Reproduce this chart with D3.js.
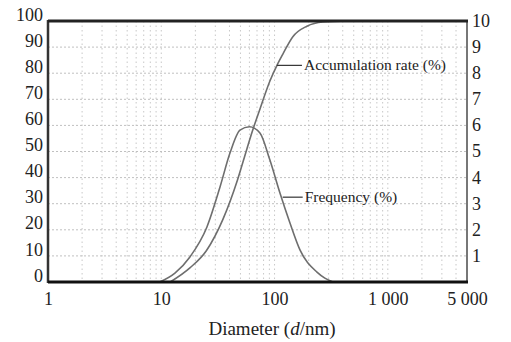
<!DOCTYPE html>
<html>
<head>
<meta charset="utf-8">
<script src="https://cdn.jsdelivr.net/npm/d3@7"></script>
<style>
  body { margin: 0; background: #fff; }
  svg { display: block; font-family: "Liberation Serif", "Times New Roman", serif; }
</style>
</head>
<body>
<svg width="511" height="342"></svg>
<script>
// particle size distribution: frequency (right axis) + accumulation (left axis)
const xTicks = [1, 10, 100, 1000, 5000];
const xTickLabels = ["1", "10", "100", "1 000", "5 000"];
const leftTicks = [0, 10, 20, 30, 40, 50, 60, 70, 80, 90, 100];
const rightTicks = [1, 2, 3, 4, 5, 6, 7, 8, 9, 10];

// frequency (%)
const freqD   = [9.7, 13.2, 17.9, 25.3, 33, 40.4, 49.5, 60, 74.3, 91, 111.6, 136.8, 167.6, 236.8, 278, 327.6];
const freqVal = [0, 0.34, 0.96, 2.11, 3.64, 4.94, 5.82, 5.95, 5.71, 4.67, 3.41, 2.26, 1.23, 0.38, 0.15, 0];

// accumulation rate (%)
const accD   = [12, 18, 25, 35, 47, 57, 64, 74, 91, 105, 119, 145, 193, 267, 460];
const accVal = [0, 5.5, 12, 24, 39, 51, 58, 66, 77, 83, 87.5, 94, 98, 99.6, 100];

const plotLeft = 48, plotRight = 467, plotTop = 21, plotBottom = 282;

const svg = d3.select("svg");

const x = d3.scaleLog().domain([1, 5000]).range([plotLeft, plotRight]);
const yL = d3.scaleLinear().domain([0, 100]).range([plotBottom, plotTop]);
const yR = d3.scaleLinear().domain([0, 10]).range([plotBottom, plotTop]);

// grid
const minor = [];
[1, 10, 100, 1000].forEach(dec => {
  for (let k = 2; k <= 10; k++) {
    const v = dec * k;
    if (v < 5000) minor.push(v);
  }
});
svg.append("g").selectAll("line").data(minor).enter().append("line")
  .attr("x1", d => x(d)).attr("x2", d => x(d))
  .attr("y1", plotTop).attr("y2", plotBottom)
  .attr("stroke", "#c8c8c8").attr("stroke-width", 1)
  .attr("stroke-dasharray", "1.5,3");

svg.append("g").selectAll("line").data(leftTicks.slice(1, -1)).enter().append("line")
  .attr("x1", plotLeft).attr("x2", plotRight)
  .attr("y1", d => yL(d)).attr("y2", d => yL(d))
  .attr("stroke", "#c0c0c0").attr("stroke-width", 1)
  .attr("stroke-dasharray", "2,2");

// curves
const line = d3.line().curve(d3.curveMonotoneX);

svg.append("path")
  .attr("d", line(freqD.map((d, i) => [x(d), yR(freqVal[i])])))
  .attr("fill", "none").attr("stroke", "#6e6e6e").attr("stroke-width", 1.6);

svg.append("path")
  .attr("d", line(accD.map((d, i) => [x(d), yL(accVal[i])])))
  .attr("fill", "none").attr("stroke", "#6e6e6e").attr("stroke-width", 1.6);

// frame
svg.append("line").attr("x1", plotRight).attr("x2", plotRight).attr("y1", plotTop).attr("y2", plotBottom)
  .attr("stroke", "#777").attr("stroke-width", 2);
svg.append("line").attr("x1", plotLeft).attr("x2", plotLeft).attr("y1", plotTop - 1).attr("y2", plotBottom + 1)
  .attr("stroke", "#333").attr("stroke-width", 2.5);
svg.append("line").attr("x1", plotLeft).attr("x2", plotRight + 1).attr("y1", plotTop).attr("y2", plotTop)
  .attr("stroke", "#222").attr("stroke-width", 3);
svg.append("line").attr("x1", plotLeft).attr("x2", plotRight + 1).attr("y1", plotBottom).attr("y2", plotBottom)
  .attr("stroke", "#111").attr("stroke-width", 3);

// axes
const gL = svg.append("g").attr("transform", `translate(${plotLeft},0)`)
  .call(d3.axisLeft(yL).tickValues(leftTicks).tickSize(0).tickPadding(5));
gL.select(".domain").remove();
gL.selectAll("text").attr("font-size", "18px").attr("fill", "#222").attr("dy", "-0.05em")
  .attr("font-family", "Liberation Serif, serif");

const gR = svg.append("g").attr("transform", `translate(${plotRight},0)`)
  .call(d3.axisRight(yR).tickValues(rightTicks).tickSize(0).tickPadding(5));
gR.select(".domain").remove();
gR.selectAll("text").attr("font-size", "18px").attr("fill", "#222").attr("dy", "0.3em")
  .attr("font-family", "Liberation Serif, serif");

const gB = svg.append("g").attr("transform", `translate(0,${plotBottom})`)
  .call(d3.axisBottom(x).tickValues(xTicks).tickSize(0).tickPadding(10)
    .tickFormat((d, i) => xTickLabels[i]));
gB.select(".domain").remove();
gB.selectAll("text").attr("font-size", "18px").attr("fill", "#222")
  .attr("font-family", "Liberation Serif, serif");

// axis title
const title = svg.append("text")
  .attr("x", 272).attr("y", 335)
  .attr("text-anchor", "middle")
  .attr("font-size", "19px").attr("fill", "#222");
title.append("tspan").text("Diameter (");
title.append("tspan").attr("font-style", "italic").text("d");
title.append("tspan").text("/nm)");

// curve labels with leader lines
const labels = [
  {text: "Accumulation rate (%)", d: 105, v: yL(83), len: 25},
  {text: "Frequency (%)", d: 118, v: yR(3.25), len: 20}
];
labels.forEach(l => {
  const x0 = x(l.d);
  svg.append("line")
    .attr("x1", x0).attr("x2", x0 + l.len)
    .attr("y1", l.v).attr("y2", l.v)
    .attr("stroke", "#333").attr("stroke-width", 1.2);
  svg.append("text")
    .attr("x", x0 + l.len + 2).attr("y", l.v)
    .attr("dy", "0.33em")
    .attr("font-size", "15.5px").attr("fill", "#222")
    .text(l.text);
});
</script>
</body>
</html>
